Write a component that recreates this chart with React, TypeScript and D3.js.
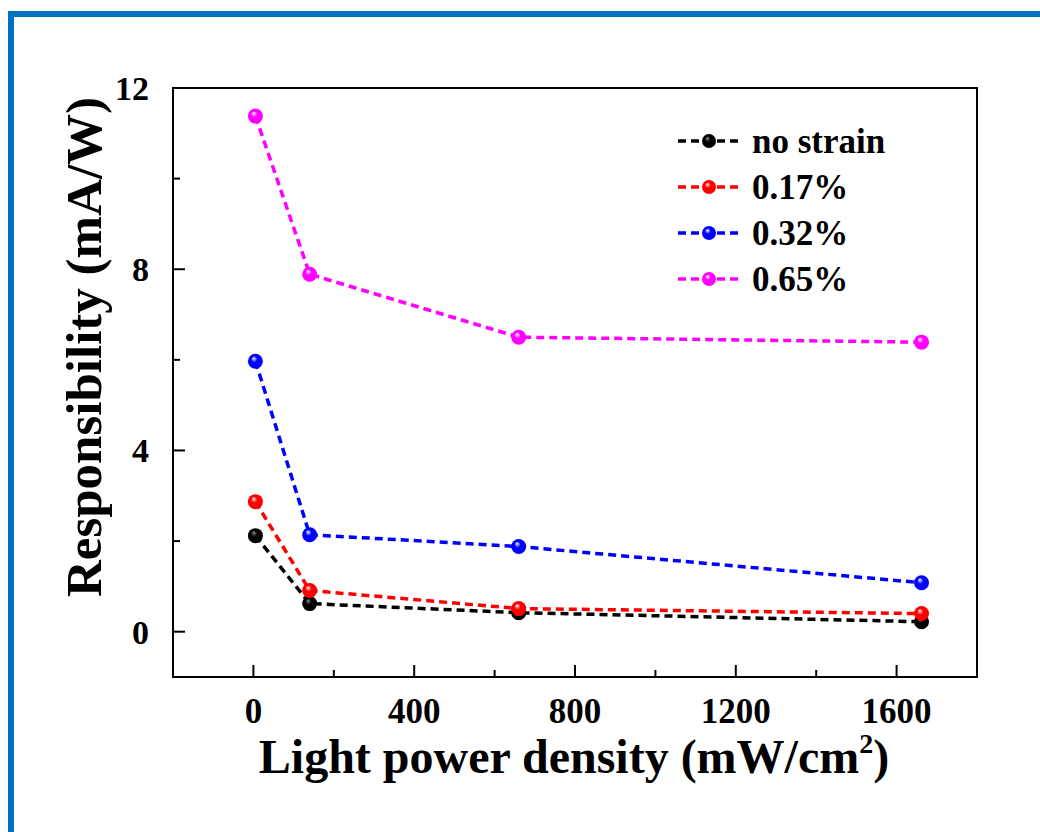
import React from 'react';
import * as d3 from 'd3';

// light power density (mW/cm2)
const powerDensity = [5, 140, 660, 1662];

const seriesNames = ['no strain', '0.17%', '0.32%', '0.65%'];
const seriesColors = ['#000000', '#ff0000', '#0000ff', '#ff00ff'];

// responsibility (mA/W)
const noStrain = [2.12, 0.62, 0.42, 0.22];
const strain017 = [2.87, 0.91, 0.51, 0.4];
const strain032 = [5.97, 2.14, 1.88, 1.08];
const strain065 = [11.38, 7.89, 6.5, 6.39];

const xTicks = [0, 400, 800, 1200, 1600];
const xMinor = [200, 600, 1000, 1400];
const yTicks = [0, 4, 8, 12];
const yMinor = [2, 6, 10];

const W = 1040;
const H = 832;
const margin = { left: 173, right: 63, top: 88, bottom: 155 };
const font = '"Liberation Serif", "Times New Roman", serif';

export default function App() {
  const x = d3.scaleLinear().domain([-200, 1800]).range([margin.left, W - margin.right]);
  const y = d3.scaleLinear().domain([-1, 12]).range([H - margin.bottom, margin.top]);

  const series = [noStrain, strain017, strain032, strain065];
  const line = d3.line<number>()
    .x((_, i) => x(powerDensity[i]))
    .y(d => y(d));

  const x0 = x.range()[0], x1 = x.range()[1];
  const y0 = y.range()[0], y1 = y.range()[1];

  return (
    <svg width={W} height={H} style={{ position: 'absolute', left: 0, top: 0, background: '#fff' }}
      fontFamily={font} fontWeight="bold">
      <defs>
        {seriesColors.map((c, i) => (
          <radialGradient key={i} id={`ball${i}`} cx="0.5" cy="0.5" r="0.6" fx="0.38" fy="0.3">
            <stop offset="0" stopColor={i === 0 ? '#888' : '#fff'} />
            <stop offset="0.35" stopColor={c} />
            <stop offset="1" stopColor={c} />
          </radialGradient>
        ))}
      </defs>

      {/* blue frame */}
      <rect x={8} y={11} width={6} height={H - 11} fill="#0070c0" />
      <rect x={8} y={11} width={W - 8} height={6} fill="#0070c0" />

      {/* plot box */}
      <rect x={x0} y={y1} width={x1 - x0} height={y0 - y1} fill="none" stroke="#000" strokeWidth={2} />

      {/* x ticks */}
      {xTicks.map(t => (
        <g key={'xt' + t}>
          <line x1={x(t)} x2={x(t)} y1={y0} y2={y0 - 12} stroke="#000" strokeWidth={2} />
          <text x={x(t)} y={723} textAnchor="middle" fontSize={35}>{t}</text>
        </g>
      ))}
      {xMinor.map(t => (
        <line key={'xm' + t} x1={x(t)} x2={x(t)} y1={y0} y2={y0 - 7} stroke="#000" strokeWidth={2} />
      ))}

      {/* y ticks */}
      {yTicks.map(t => (
        <g key={'yt' + t}>
          <line x1={x0} x2={x0 + 12} y1={y(t)} y2={y(t)} stroke="#000" strokeWidth={2} />
          <text x={149} y={y(t) + 12} textAnchor="end" fontSize={34}>{t}</text>
        </g>
      ))}
      {yMinor.map(t => (
        <line key={'ym' + t} x1={x0} x2={x0 + 7} y1={y(t)} y2={y(t)} stroke="#000" strokeWidth={2} />
      ))}

      {/* axis titles */}
      <text x={574} y={773} textAnchor="middle" fontSize={48}>
        Light power density (mW/cm<tspan dy={-20} fontSize={28}>2</tspan><tspan dy={20}>)</tspan>
      </text>
      <text transform={`translate(101, ${347}) rotate(-90)`} textAnchor="middle" fontSize={51}>
        Responsibility (mA/W)
      </text>

      {/* series */}
      {series.map((vals, i) => (
        <g key={'s' + i}>
          <path d={line(vals) || ''} fill="none" stroke={seriesColors[i]} strokeWidth={3.5} strokeDasharray="8,5" />
          {vals.map((v, j) => (
            <circle key={j} cx={x(powerDensity[j])} cy={y(v)} r={7.5} fill={`url(#ball${i})`} />
          ))}
        </g>
      ))}

      {/* legend */}
      {seriesNames.map((name, i) => {
        const ly = 141 + i * 46;
        return (
          <g key={'lg' + i}>
            <line x1={678} x2={741} y1={ly} y2={ly} stroke={seriesColors[i]} strokeWidth={3.5} strokeDasharray="8,5" />
            <circle cx={709} cy={ly} r={7} fill={`url(#ball${i})`} />
            <text x={752} y={ly + 12} fontSize={35}>{name}</text>
          </g>
        );
      })}
    </svg>
  );
}
